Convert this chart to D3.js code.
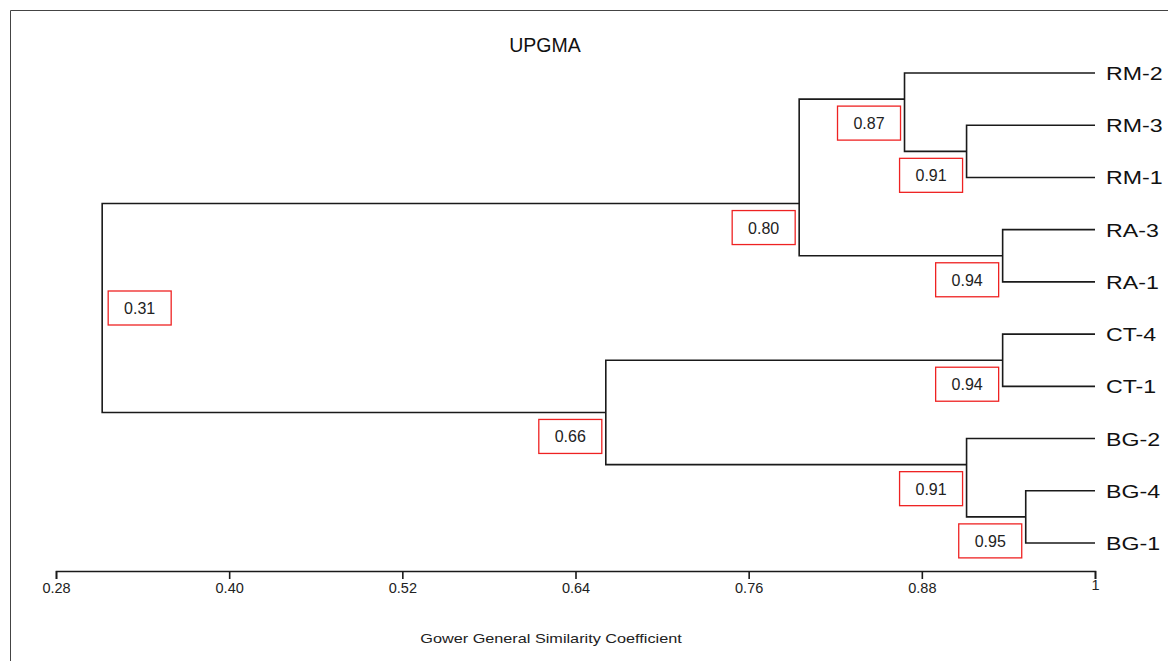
<!DOCTYPE html>
<html>
<head>
<meta charset="utf-8">
<script src="https://cdn.jsdelivr.net/npm/d3@7"></script>
<style>
html,body{margin:0;padding:0;background:#fff;}
svg{display:block;font-family:"Liberation Sans",Arial,sans-serif;}
</style>
</head>
<body>
<svg id="chart" width="1168" height="661"></svg>
<script>
// ---- data ----
const leaves = ["RM-2","RM-3","RM-1","RA-3","RA-1","CT-4","CT-1","BG-2","BG-4","BG-1"];
const clusterNames = ["A","B","C","D","E","F","G","H","I"];
const clusterLeft  = ["RM-3","RA-3","CT-4","BG-4","RM-2","BG-2","E","C","G"];
const clusterRight = ["RM-1","RA-1","CT-1","BG-1","A","D","B","F","H"];
const clusterSim   = [0.911,0.936,0.936,0.952,0.868,0.911,0.795,0.661,0.312];
const clusterLabels= ["0.91","0.94","0.94","0.95","0.87","0.91","0.80","0.66","0.31"];
const tickValues = [0.28,0.40,0.52,0.64,0.76,0.88,1];
const tickLabels = ["0.28","0.40","0.52","0.64","0.76","0.88","1"];
const title = "UPGMA";
const axisTitle = "Gower General Similarity Coefficient";

// ---- layout ----
const svg = d3.select("#chart");
const x = d3.scaleLinear().domain([0.28,1]).range([56,1095]);
const y = d3.scalePoint().domain(leaves).range([73,543]);
const axisY = 571;

// frame
svg.append("path").attr("d","M10.5,661 V10.5 H1168")
  .attr("fill","none").attr("stroke","#444").attr("stroke-width",1);

// build nodes
const nodes = {};
leaves.forEach(l => { nodes[l] = {x:x(1), y:y(l), first:l, last:l, leaf:true}; });
clusterNames.forEach((c,i) => {
  const L = nodes[clusterLeft[i]], R = nodes[clusterRight[i]];
  nodes[c] = {
    x: x(clusterSim[i]),
    y: (y(L.last) + y(R.first)) / 2,
    first: L.first, last: R.last,
    L, R, label: clusterLabels[i], root: i === clusterNames.length-1
  };
});

const g = svg.append("g");
clusterNames.forEach(c => {
  const n = nodes[c];
  const p = d3.path();
  p.moveTo(n.R.x, n.R.y); p.lineTo(n.x, n.R.y); p.lineTo(n.x, n.L.y); p.lineTo(n.L.x, n.L.y);
  g.append("path").attr("d", p.toString()).attr("fill","none")
    .attr("stroke","#1a1a1a").attr("stroke-width",1.6);
});

// label boxes
const bw = 63, bh = 34;
clusterNames.forEach(c => {
  const n = nodes[c];
  let bx, by;
  if (n.root) { bx = n.x + 6; by = n.y - bh/2; }
  else { bx = n.x - 4 - bw; by = n.y + 7; }
  g.append("rect").attr("x",bx).attr("y",by).attr("width",bw).attr("height",bh)
    .attr("fill","#fff").attr("stroke","#ee2222").attr("stroke-width",1.3);
  g.append("text").attr("x",bx+bw/2).attr("y",by+bh/2+6).attr("text-anchor","middle")
    .attr("font-size",16).attr("fill","#222").text(n.label);
});

// leaf labels (horizontally stretched like the reference)
leaves.forEach(l => {
  svg.append("text").attr("transform",`translate(${x(1)+11},${y(l)+7}) scale(1.22,1)`)
    .attr("font-size",19).attr("fill","#111").text(l);
});

// axis
const axis = d3.axisBottom(x).tickValues(tickValues)
  .tickFormat((d,i) => tickLabels[i]).tickSizeOuter(0).tickSize(8).tickPadding(4);
const ag = svg.append("g").attr("transform",`translate(0,${axisY})`).call(axis);
ag.select(".domain").attr("stroke","#1a1a1a").attr("stroke-width",1.6);
ag.selectAll(".tick line").attr("stroke","#1a1a1a").attr("stroke-width",1.6);
ag.selectAll(".tick text").attr("font-size",14.5).attr("fill","#222")
  .attr("font-family","'Liberation Sans',Arial,sans-serif");
ag.selectAll(".tick text").filter((d,i) => i === tickValues.length-1).attr("y",9);

// titles
svg.append("text").attr("x",545).attr("y",52).attr("text-anchor","middle")
  .attr("font-size",19.5).attr("fill","#111").text(title);
svg.append("text").attr("transform","translate(551,643) scale(1.25,1)").attr("text-anchor","middle")
  .attr("font-size",13).attr("fill","#222").text(axisTitle);
</script>
</body>
</html>
